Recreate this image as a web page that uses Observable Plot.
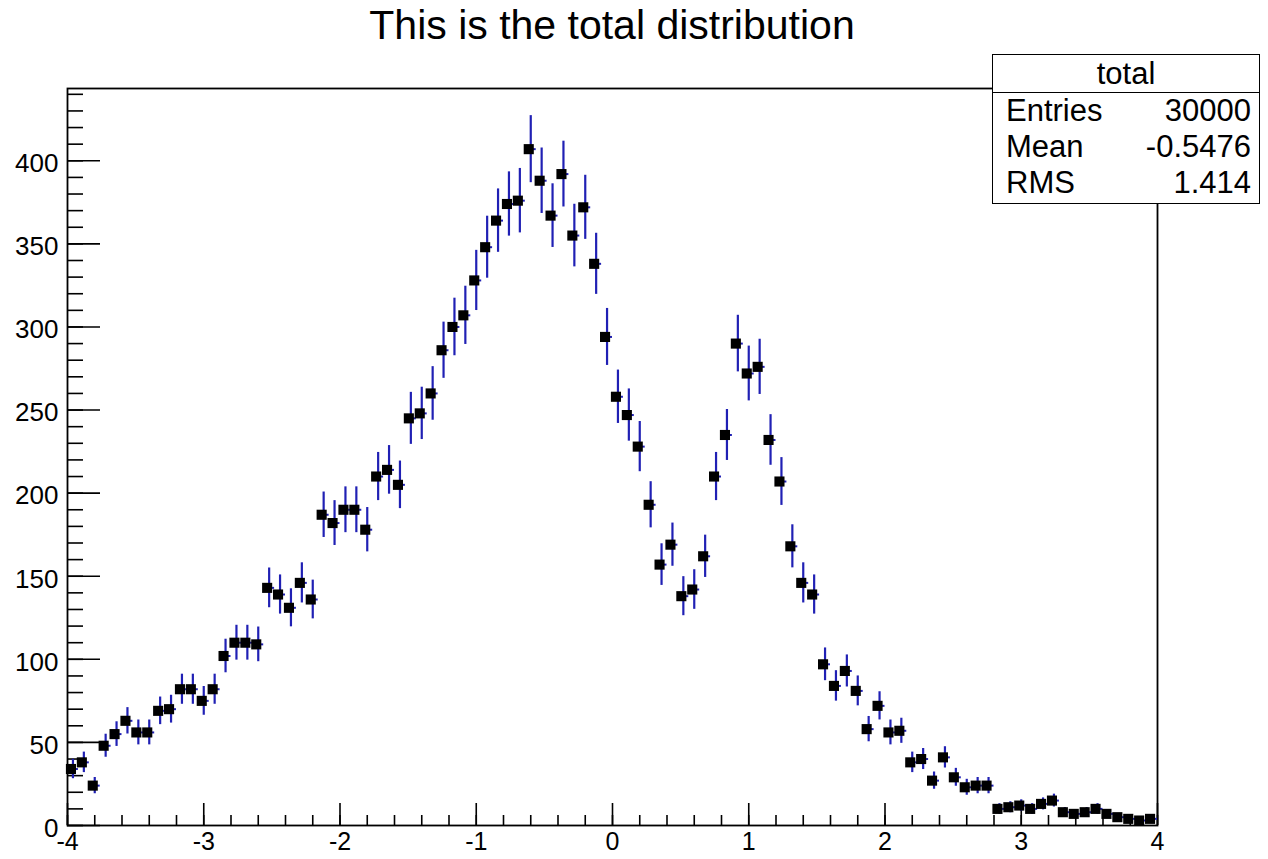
<!DOCTYPE html>
<html>
<head>
<meta charset="utf-8">
<script src="https://cdn.jsdelivr.net/npm/d3@7"></script>
<script src="https://cdn.jsdelivr.net/npm/@observablehq/plot@0.6"></script>
<style>
  html, body { margin: 0; padding: 0; background: #fff; }
  #wrap { position: relative; width: 1268px; height: 859px; overflow: hidden;
          font-family: "Liberation Sans", Arial, Helvetica, sans-serif; color: #000; }
  #chart { position: absolute; left: 0; top: 0; }
  #title { position: absolute; left: 67px; width: 1090px; top: 5px; text-align: center;
           font-size: 41px; line-height: 41px; white-space: nowrap; }
  #stats { position: absolute; left: 992px; top: 54px; width: 268px; height: 150px;
           box-sizing: border-box; border: 1.6px solid #000; background: #fff; font-size: 31px; }
  #stats .head { height: 37px; line-height: 37px; text-align: center; border-bottom: 1.6px solid #000; }
  #stats .row { display: flex; justify-content: space-between; height: 36px; line-height: 36px;
                padding: 0 8px 0 13px; }
</style>
</head>
<body>
<div id="wrap">
  <div id="chart"></div>
  <div id="title"></div>
  <div id="stats"></div>
</div>
<script>
// ---- data ----
const titleText = "This is the total distribution";
const histName = "total";
const statLabels = ["Entries", "Mean", "RMS"];
const statValues = ["30000", "-0.5476", "1.414"];

const xMin = -4, xMax = 4, nBins = 100;
const counts = [
  34, 38, 24, 48, 55, 63, 56, 56, 69, 70,
  82, 82, 75, 82, 102, 110, 110, 109, 143, 139,
  131, 146, 136, 187, 182, 190, 190, 178, 210, 214,
  205, 245, 248, 260, 286, 300, 307, 328, 348, 364,
  374, 376, 407, 388, 367, 392, 355, 372, 338, 294,
  258, 247, 228, 193, 157, 169, 138, 142, 162, 210,
  235, 290, 272, 276, 232, 207, 168, 146, 139, 97,
  84, 93, 81, 58, 72, 56, 57, 38, 40, 27,
  41, 29, 23, 24, 24, 10, 11, 12, 10, 13,
  15, 8, 7, 8, 10, 7, 5, 4, 3, 4
];
const yMaxDomain = 443.5;
const xMajorTicks = [-4, -3, -2, -1, 0, 1, 2, 3, 4];
const xMinorTicks = d3.ticks(-4, 4, 40);
const yMajorTicks = [0, 50, 100, 150, 200, 250, 300, 350, 400];
const yMinorTicks = d3.range(0, 441, 10);

// ---- layout ----
const W = 1268, H = 859;
const mL = 67, mR = 111, mT = 88, mB = 34;
const innerW = W - mL - mR, innerH = H - mT - mB;
const binW = (xMax - xMin) / nBins;
const errColor = "#2020b4";

const bins = counts.map((c, i) => ({
  x: xMin + binW * (i + 0.5),
  x1: xMin + binW * i,
  x2: xMin + binW * (i + 1),
  c,
  lo: c - Math.sqrt(c),
  hi: c + Math.sqrt(c)
}));

const plot = Plot.plot({
  width: W, height: H,
  marginLeft: mL, marginRight: mR, marginTop: mT, marginBottom: mB,
  x: { domain: [xMin, xMax], axis: null },
  y: { domain: [0, yMaxDomain], axis: null },
  style: { fontFamily: "'Liberation Sans', Arial, Helvetica, sans-serif", fontSize: "26px", background: "white", color: "black" },
  marks: [
    Plot.tickX(xMinorTicks, { x: d => d, insetTop: innerH - 10, stroke: "black", strokeWidth: 1.6 }),
    Plot.tickX(xMajorTicks, { x: d => d, insetTop: innerH - 22, stroke: "black", strokeWidth: 1.6 }),
    Plot.tickY(yMinorTicks, { y: d => d, insetRight: innerW - 16, stroke: "black", strokeWidth: 1.6 }),
    Plot.tickY(yMajorTicks, { y: d => d, insetRight: innerW - 33, stroke: "black", strokeWidth: 1.6 }),
    Plot.axisX({ ticks: xMajorTicks, tickSize: 0, tickPadding: 7, fontSize: 25, tickFormat: d => String(d) }),
    Plot.axisY({ ticks: yMajorTicks, tickSize: 0, tickPadding: 9, dy: 3, fontSize: 26, tickFormat: d => String(d) }),
    Plot.frame({ stroke: "black", strokeWidth: 1.8 }),
    Plot.ruleY(bins, { y: "c", x1: "x1", x2: "x2", stroke: errColor, strokeWidth: 2 }),
    Plot.ruleX(bins, { x: "x", y1: "lo", y2: "hi", stroke: errColor, strokeWidth: 2.2 }),
    Plot.dot(bins, { x: "x", y: "c", symbol: "square", r: 5.7, fill: "black", stroke: null, dx: -2 })
  ]
});
document.getElementById("chart").appendChild(plot);

document.getElementById("title").textContent = titleText;
const stats = document.getElementById("stats");
const head = document.createElement("div");
head.className = "head";
head.textContent = histName;
stats.appendChild(head);
statLabels.forEach((l, i) => {
  const row = document.createElement("div");
  row.className = "row";
  const a = document.createElement("span"); a.textContent = l;
  const b = document.createElement("span"); b.textContent = statValues[i];
  row.appendChild(a); row.appendChild(b);
  stats.appendChild(row);
});
</script>
</body>
</html>
